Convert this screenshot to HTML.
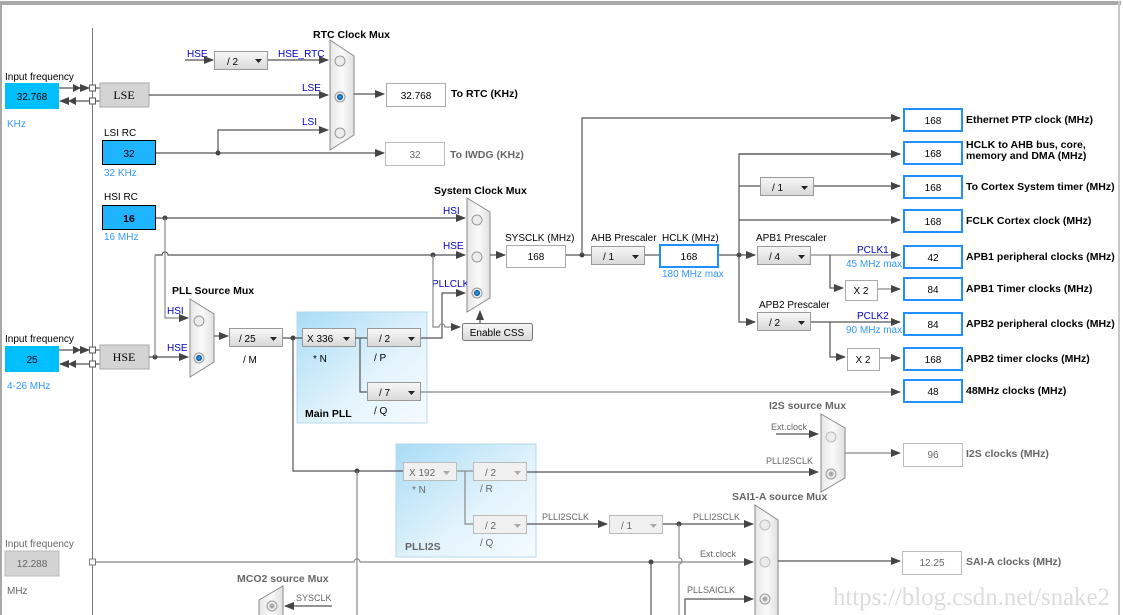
<!DOCTYPE html>
<html><head><meta charset="utf-8"><style>
html,body{margin:0;padding:0;background:#fff;}
svg{display:block;font-family:"Liberation Sans",Tahoma,sans-serif;}
.t{font-size:10px;fill:#000}
.b{font-size:10.5px;font-weight:bold;fill:#000}
.bl{font-size:10px;fill:#0000cc}
.lb{font-size:10px;fill:#3399ff}
.g{font-size:10px;fill:#666}
.gb{font-size:10.5px;font-weight:bold;fill:#666}
.l{stroke:#555;stroke-width:1.2;fill:none}
.lg{stroke:#888;stroke-width:1.2;fill:none}
</style></head><body>
<svg width="1123" height="615" viewBox="0 0 1123 615" xmlns="http://www.w3.org/2000/svg">
<defs>
<marker id="a" markerWidth="10" markerHeight="8" refX="9" refY="4" orient="auto" markerUnits="userSpaceOnUse"><path d="M0,0 L10,4 L0,8 z" fill="#444"/></marker>
<linearGradient id="dd" x1="0" y1="0" x2="0" y2="1"><stop offset="0" stop-color="#f8f8f8"/><stop offset="1" stop-color="#d8d8d8"/></linearGradient>
<linearGradient id="mx" x1="0" y1="0" x2="1" y2="0"><stop offset="0" stop-color="#e6e6e6"/><stop offset="0.5" stop-color="#fafafa"/><stop offset="1" stop-color="#e0e0e0"/></linearGradient>
<linearGradient id="pl" x1="0" y1="0" x2="1" y2="1"><stop offset="0" stop-color="#a8dcf6"/><stop offset="0.6" stop-color="#e4f4fc"/><stop offset="1" stop-color="#f4fbff"/></linearGradient>
<radialGradient id="sel"><stop offset="0" stop-color="#3fa9ff"/><stop offset="1" stop-color="#004c88"/></radialGradient>
</defs>
<rect x="0" y="0" width="1123" height="615" fill="#fff"/>
<rect x="0" y="1" width="1121" height="4" fill="#a8a8a8"/>
<rect x="0" y="1" width="2" height="614" fill="#a8a8a8"/>
<rect x="1118" y="1" width="2" height="614" fill="#c8c8c8"/>
<line x1="92.5" y1="28" x2="92.5" y2="615" stroke="#777" stroke-width="1"/>

<rect x="297" y="312" width="130" height="111" fill="url(#pl)" stroke="#b8d8ec"/>
<rect x="396" y="444" width="140" height="113" fill="url(#pl)" stroke="#b8d8ec"/>

<text x="5" y="80" class="t">Input frequency</text>
<rect x="5" y="83" width="54" height="26" fill="#00bfff"/>
<text x="32" y="100" class="t" text-anchor="middle">32.768</text>
<text x="7" y="127" class="lb">KHz</text>
<line x1="59" y1="88" x2="89" y2="88" class="l" marker-end="url(#a)"/><path d="M73,84 L81,88 L73,92z" fill="#444"/>
<line x1="89" y1="101" x2="60" y2="101" class="l" marker-end="url(#a)"/><path d="M76,97 L68,101 L76,105z" fill="#444"/>
<rect x="89.5" y="85" width="6" height="6" fill="#fff" stroke="#555"/>
<rect x="89.5" y="98" width="6" height="6" fill="#fff" stroke="#555"/>
<line x1="95" y1="88" x2="100" y2="88" class="l"/><line x1="95" y1="101" x2="100" y2="101" class="l"/>
<rect x="100" y="83" width="49" height="24" fill="#d4d4d4" stroke="#aaa"/>
<text x="124" y="99" text-anchor="middle" style="font-family:'Liberation Serif',serif;font-size:12px">LSE</text>

<text x="5" y="342" class="t">Input frequency</text>
<rect x="5" y="346" width="54" height="26" fill="#00bfff"/>
<text x="32" y="363" class="t" text-anchor="middle">25</text>
<text x="7" y="389" class="lb">4-26 MHz</text>
<line x1="59" y1="350" x2="89" y2="350" class="l" marker-end="url(#a)"/><path d="M73,346 L81,350 L73,354z" fill="#444"/>
<line x1="89" y1="364" x2="60" y2="364" class="l" marker-end="url(#a)"/><path d="M76,360 L68,364 L76,368z" fill="#444"/>
<rect x="89.5" y="347" width="6" height="6" fill="#fff" stroke="#555"/>
<rect x="89.5" y="361" width="6" height="6" fill="#fff" stroke="#555"/>
<line x1="95" y1="350" x2="100" y2="350" class="l"/><line x1="95" y1="364" x2="100" y2="364" class="l"/>
<rect x="100" y="345" width="49" height="24" fill="#d4d4d4" stroke="#aaa"/>
<text x="124" y="361" text-anchor="middle" style="font-family:'Liberation Serif',serif;font-size:12px">HSE</text>

<text x="5" y="547" class="g">Input frequency</text>
<rect x="5" y="551" width="54" height="25" fill="#d3d3d3" stroke="#bbb"/>
<text x="32" y="567" class="g" text-anchor="middle">12.288</text>
<text x="7" y="594" class="g">MHz</text>
<rect x="89.5" y="559" width="6" height="6" fill="#fff" stroke="#777"/>

<text x="104" y="136" class="t">LSI RC</text>
<rect x="102.5" y="140.5" width="53" height="24" fill="#1eb4ff" stroke="#000"/>
<text x="129" y="157" class="t" text-anchor="middle">32</text>
<text x="104" y="176" class="lb">32 KHz</text>
<text x="104" y="200" class="t">HSI RC</text>
<rect x="102.5" y="205.5" width="53" height="24" fill="#1eb4ff" stroke="#000"/>
<text x="129" y="222" class="b" text-anchor="middle">16</text>
<text x="104" y="240" class="lb">16 MHz</text>

<text x="313" y="38" class="b">RTC Clock Mux</text>
<text x="187" y="57" class="bl">HSE</text>
<line x1="185" y1="60" x2="213" y2="60" class="l" marker-end="url(#a)"/>
<rect x="214.5" y="51.5" width="53" height="18" fill="url(#dd)" stroke="#999"/>
<text x="227" y="65" class="t">/ 2</text><path d="M255,59 L262,59 L258.5,63z" fill="#222"/>
<line x1="268" y1="60" x2="328" y2="60" class="l" marker-end="url(#a)"/>
<text x="278" y="57" class="bl">HSE_RTC</text>
<line x1="149" y1="95" x2="328" y2="95" class="l" marker-end="url(#a)"/>
<text x="302" y="91" class="bl">LSE</text>
<text x="302" y="125" class="bl">LSI</text>
<polyline points="218,153 218,130 328,130" class="l" marker-end="url(#a)"/>
<polygon points="330,40 354,56 354,135 330,150" fill="url(#mx)" stroke="#888"/>
<circle cx="340" cy="61" r="5" fill="#ececec" stroke="#999"/>
<circle cx="340" cy="97" r="5" fill="#ececec" stroke="#999"/><circle cx="340" cy="97" r="3" fill="url(#sel)"/>
<circle cx="340" cy="133" r="5" fill="#ececec" stroke="#999"/>
<line x1="354" y1="94" x2="384" y2="94" class="l" marker-end="url(#a)"/>
<rect x="386.5" y="83.5" width="59" height="23" fill="#fff" stroke="#aaa"/>
<text x="416" y="99" class="t" text-anchor="middle">32.768</text>
<text x="451" y="97" class="b">To RTC (KHz)</text>
<line x1="156" y1="153" x2="384" y2="153" class="l" marker-end="url(#a)"/>
<circle cx="218" cy="153" r="2.5" fill="#444"/>
<rect x="385.5" y="142.5" width="59" height="23" fill="#fff" stroke="#bbb"/>
<text x="415" y="158" class="g" text-anchor="middle">32</text>
<text x="450" y="158" class="gb">To IWDG (KHz)</text>

<text x="434" y="194" class="b">System Clock Mux</text>
<line x1="156" y1="218" x2="465" y2="218" class="l" marker-end="url(#a)"/>
<circle cx="165" cy="218" r="2.5" fill="#444"/>
<text x="443" y="214" class="bl">HSI</text>
<path d="M155,255 L162,255 A3,3 0 0 1 168,255 L465,255" class="l" marker-end="url(#a)"/>
<circle cx="433" cy="255" r="2.5" fill="#444"/>
<text x="443" y="249" class="bl">HSE</text>
<text x="432" y="287" class="bl">PLLCLK</text>
<polyline points="420,338 442,338 442,293 465,293" class="l" marker-end="url(#a)"/>
<path d="M433,255 L433,327 L439,327 A3,3 0 0 1 445,327 L460,327" class="lg" marker-end="url(#a)"/>
<polygon points="467,198 490,212 490,298 467,312" fill="url(#mx)" stroke="#888"/>
<circle cx="477" cy="220" r="5" fill="#ececec" stroke="#999"/>
<circle cx="477" cy="257" r="5" fill="#ececec" stroke="#999"/>
<circle cx="477" cy="293" r="5" fill="#ececec" stroke="#999"/><circle cx="477" cy="293" r="3" fill="url(#sel)"/>
<rect x="462.5" y="323.5" width="70" height="17" rx="2" fill="url(#dd)" stroke="#777"/>
<text x="497" y="336" class="t" text-anchor="middle">Enable CSS</text>
<line x1="480" y1="323" x2="480" y2="311" class="l" marker-end="url(#a)"/>
<line x1="490" y1="255" x2="505" y2="255" class="l" marker-end="url(#a)"/>
<text x="505" y="241" class="t">SYSCLK (MHz)</text>
<rect x="506.5" y="245.5" width="59" height="22" fill="#fff" stroke="#aaa"/>
<text x="536" y="260" class="t" text-anchor="middle">168</text>

<line x1="149" y1="357" x2="188" y2="357" class="l" marker-end="url(#a)"/>
<circle cx="155" cy="357" r="2.5" fill="#444"/>
<line x1="155" y1="255" x2="155" y2="357" class="lg"/>
<polyline points="165,218 165,318 188,318" class="lg" marker-end="url(#a)"/>
<text x="172" y="294" class="b">PLL Source Mux</text>
<text x="167" y="314" class="bl">HSI</text>
<text x="167" y="351" class="bl">HSE</text>
<polygon points="190,299 214,314 214,362 190,377" fill="url(#mx)" stroke="#888"/>
<circle cx="199" cy="321" r="5" fill="#ececec" stroke="#999"/>
<circle cx="199" cy="358" r="5" fill="#ececec" stroke="#999"/><circle cx="199" cy="358" r="3" fill="url(#sel)"/>
<line x1="214" y1="336" x2="228" y2="336" class="l" marker-end="url(#a)"/>
<rect x="229.5" y="328.5" width="53" height="18" fill="url(#dd)" stroke="#999"/>
<text x="239" y="342" class="t">/ 25</text><path d="M270,337 L277,337 L273.5,341z" fill="#222"/>
<text x="243" y="363" class="t">/ M</text>
<line x1="283" y1="338" x2="302" y2="338" class="l"/>
<circle cx="293" cy="338" r="2.5" fill="#444"/>
<polyline points="293,338 293,471 403,471" class="l"/>
<circle cx="357" cy="471" r="2.5" fill="#444"/>
<line x1="357" y1="471" x2="357" y2="615" class="lg"/>

<rect x="302.5" y="328.5" width="53" height="18" fill="url(#dd)" stroke="#999"/>
<text x="307" y="342" class="t">X 336</text><path d="M343,337 L350,337 L346.5,341z" fill="#222"/>
<text x="313" y="362" class="t">* N</text>
<polyline points="355,338 367,338" class="l"/>
<polyline points="360,338 360,392 367,392" class="l"/>
<rect x="367.5" y="328.5" width="53" height="18" fill="url(#dd)" stroke="#999"/>
<text x="379" y="342" class="t">/ 2</text><path d="M408,337 L415,337 L411.5,341z" fill="#222"/>
<text x="374" y="361" class="t">/ P</text>
<rect x="367.5" y="382.5" width="53" height="18" fill="url(#dd)" stroke="#999"/>
<text x="379" y="396" class="t">/ 7</text><path d="M408,391 L415,391 L411.5,395z" fill="#222"/>
<text x="374" y="414" class="t">/ Q</text>
<text x="305" y="417" class="b">Main PLL</text>
<line x1="420" y1="392" x2="900" y2="392" class="lg" marker-end="url(#a)"/>

<rect x="403.5" y="462.5" width="53" height="18" fill="#f0f0f0" stroke="#bbb"/>
<text x="409" y="476" class="g">X 192</text><path d="M443,471 L450,471 L446.5,475z" fill="#aaa"/>
<text x="412" y="493" class="g">* N</text>
<line x1="457" y1="471" x2="473" y2="471" class="lg"/>
<polyline points="465,471 465,524 473,524" class="lg"/>
<rect x="473.5" y="462.5" width="53" height="18" fill="#f0f0f0" stroke="#bbb"/>
<text x="485" y="476" class="g">/ 2</text><path d="M514,471 L521,471 L517.5,475z" fill="#aaa"/>
<text x="480" y="492" class="g">/ R</text>
<rect x="473.5" y="515.5" width="53" height="18" fill="#f0f0f0" stroke="#bbb"/>
<text x="485" y="529" class="g">/ 2</text><path d="M514,524 L521,524 L517.5,528z" fill="#aaa"/>
<text x="480" y="546" class="g">/ Q</text>
<text x="405" y="550" class="gb">PLLI2S</text>
<line x1="527" y1="472" x2="818" y2="472" class="l" marker-end="url(#a)"/>
<line x1="527" y1="524" x2="607" y2="524" class="l" marker-end="url(#a)"/>
<text x="542" y="520" class="g" style="font-size:9px">PLLI2SCLK</text>
<rect x="609.5" y="515.5" width="53" height="18" fill="#f0f0f0" stroke="#bbb"/>
<text x="621" y="529" class="g">/ 1</text><path d="M650,524 L657,524 L653.5,528z" fill="#aaa"/>
<line x1="663" y1="524" x2="753" y2="524" class="l" marker-end="url(#a)"/>
<circle cx="679" cy="524" r="2.5" fill="#444"/>
<text x="693" y="520" class="g" style="font-size:9px">PLLI2SCLK</text>
<path d="M679,524 L679,558 A3,3 0 0 1 679,564 L679,615" class="lg"/>

<path d="M96,562 L354,562 A3,3 0 0 1 360,562 L753,562" class="lg" marker-end="url(#a)"/>
<circle cx="651" cy="562" r="2.5" fill="#444"/>
<line x1="651" y1="562" x2="651" y2="615" class="l"/>
<text x="700" y="557" class="g" style="font-size:9px">Ext.clock</text>
<polyline points="685,615 685,599 753,599" class="l" marker-end="url(#a)"/>
<text x="687" y="593" class="g" style="font-size:9px">PLLSAICLK</text>

<text x="732" y="500" class="gb">SAI1-A source Mux</text>
<polygon points="755,505 778,520 778,630 755,645" fill="url(#mx)" stroke="#888"/>
<circle cx="765" cy="525" r="5" fill="#ececec" stroke="#bbb"/>
<circle cx="765" cy="562" r="5" fill="#ececec" stroke="#bbb"/>
<circle cx="765" cy="599" r="5" fill="#ececec" stroke="#999"/><circle cx="765" cy="599" r="2.5" fill="#aaa"/>
<line x1="778" y1="561" x2="900" y2="561" class="l" marker-end="url(#a)"/>
<rect x="902.5" y="551.5" width="59" height="23" fill="#fff" stroke="#bbb"/>
<text x="932" y="566" class="g" text-anchor="middle">12.25</text>
<text x="966" y="565" class="gb">SAI-A clocks (MHz)</text>

<text x="769" y="409" class="gb">I2S source Mux</text>
<text x="771" y="430" class="g" style="font-size:9px">Ext.clock</text>
<line x1="776" y1="434" x2="818" y2="434" class="l" marker-end="url(#a)"/>
<text x="766" y="464" class="g" style="font-size:9px">PLLI2SCLK</text>
<polygon points="821,414 845,428 845,478 821,492" fill="url(#mx)" stroke="#888"/>
<circle cx="831" cy="437" r="5" fill="#ececec" stroke="#bbb"/>
<circle cx="831" cy="474" r="5" fill="#ececec" stroke="#999"/><circle cx="831" cy="474" r="2.5" fill="#aaa"/>
<line x1="845" y1="453" x2="900" y2="453" class="lg" marker-end="url(#a)"/>
<rect x="903.5" y="443.5" width="59" height="23" fill="#fff" stroke="#bbb"/>
<text x="933" y="458" class="g" text-anchor="middle">96</text>
<text x="966" y="457" class="gb">I2S clocks (MHz)</text>

<text x="237" y="582" class="gb">MCO2 source Mux</text>
<polygon points="259,600 283,586 283,620 259,620" fill="url(#mx)" stroke="#888"/>
<circle cx="272" cy="606" r="5" fill="#ececec" stroke="#999"/><circle cx="272" cy="606" r="2.5" fill="#aaa"/>
<line x1="332" y1="606" x2="285" y2="606" class="l" marker-end="url(#a)"/>
<text x="296" y="601" class="g" style="font-size:9px">SYSCLK</text>

<line x1="566" y1="255" x2="591" y2="255" class="l"/>
<circle cx="582" cy="255" r="2.5" fill="#444"/>
<polyline points="582,255 582,118 900,118" class="l" marker-end="url(#a)"/>
<text x="591" y="241" class="t">AHB Prescaler</text>
<rect x="591.5" y="246.5" width="53" height="18" fill="url(#dd)" stroke="#999"/>
<text x="603" y="260" class="t">/ 1</text><path d="M632,255 L639,255 L635.5,259z" fill="#222"/>
<line x1="645" y1="255" x2="660" y2="255" class="l"/>
<text x="662" y="241" class="t">HCLK (MHz)</text>
<rect x="660" y="245" width="58" height="22" fill="#fff" stroke="#1e90ff" stroke-width="2"/>
<text x="689" y="260" class="t" text-anchor="middle">168</text>
<text x="662" y="277" class="lb">180 MHz max</text>
<line x1="719" y1="255" x2="755" y2="255" class="l" marker-end="url(#a)"/>
<circle cx="739" cy="255" r="2.5" fill="#444"/>
<polyline points="900,154 739,154 739,322 755,322" class="l" marker-end="url(#a)"/>
<line x1="739" y1="154" x2="900" y2="154" class="l" marker-end="url(#a)"/>
<line x1="739" y1="220" x2="900" y2="220" class="l" marker-end="url(#a)"/>
<line x1="739" y1="186" x2="760" y2="186" class="l"/>
<rect x="760.5" y="177.5" width="53" height="18" fill="url(#dd)" stroke="#999"/>
<text x="772" y="191" class="t">/ 1</text><path d="M801,186 L808,186 L804.5,190z" fill="#222"/>
<line x1="814" y1="186" x2="900" y2="186" class="l" marker-end="url(#a)"/>
<text x="756" y="241" class="t">APB1 Prescaler</text>
<rect x="757.5" y="246.5" width="53" height="18" fill="url(#dd)" stroke="#999"/>
<text x="769" y="260" class="t">/ 4</text><path d="M798,255 L805,255 L801.5,259z" fill="#222"/>
<line x1="811" y1="255" x2="900" y2="255" class="lg" marker-end="url(#a)"/>
<text x="857" y="253" class="bl">PCLK1</text>
<text x="846" y="267" class="lb">45 MHz max</text>
<polyline points="830,255 830,288 843,288" class="l" marker-end="url(#a)"/>
<rect x="845.5" y="280.5" width="32" height="20" fill="#fff" stroke="#aaa"/>
<text x="861" y="294" class="t" text-anchor="middle">X 2</text>
<line x1="878" y1="289" x2="900" y2="289" class="lg" marker-end="url(#a)"/>
<text x="759" y="308" class="t">APB2 Prescaler</text>
<rect x="757.5" y="312.5" width="53" height="18" fill="url(#dd)" stroke="#999"/>
<text x="769" y="326" class="t">/ 2</text><path d="M798,321 L805,321 L801.5,325z" fill="#222"/>
<line x1="811" y1="322" x2="900" y2="322" class="l" marker-end="url(#a)"/>
<text x="857" y="319" class="bl">PCLK2</text>
<text x="846" y="333" class="lb">90 MHz max</text>
<polyline points="830,322 830,357 845,357" class="l" marker-end="url(#a)"/>
<rect x="847.5" y="348.5" width="32" height="22" fill="#fff" stroke="#aaa"/>
<text x="863" y="363" class="t" text-anchor="middle">X 2</text>
<line x1="880" y1="358" x2="900" y2="358" class="lg" marker-end="url(#a)"/>

<g fill="#fff" stroke="#1e90ff" stroke-width="2">
<rect x="904" y="109" width="58" height="22"/>
<rect x="904" y="142" width="58" height="22"/>
<rect x="904" y="176" width="58" height="22"/>
<rect x="904" y="210" width="58" height="22"/>
<rect x="904" y="246" width="58" height="22"/>
<rect x="904" y="278" width="58" height="22"/>
<rect x="904" y="313" width="58" height="22"/>
<rect x="904" y="348" width="58" height="22"/>
<rect x="904" y="380" width="58" height="22"/>
</g>
<g class="t" text-anchor="middle" font-size="10">
<text x="933" y="124">168</text><text x="933" y="157">168</text><text x="933" y="191">168</text>
<text x="933" y="225">168</text><text x="933" y="261">42</text><text x="933" y="293">84</text>
<text x="933" y="328">84</text><text x="933" y="363">168</text><text x="933" y="395">48</text>
</g>
<text x="966" y="123" class="b">Ethernet PTP clock (MHz)</text>
<text x="966" y="148" class="b">HCLK to AHB bus, core,</text>
<text x="966" y="159" class="b">memory and DMA (MHz)</text>
<text x="966" y="190" class="b">To Cortex System timer (MHz)</text>
<text x="966" y="224" class="b">FCLK Cortex clock (MHz)</text>
<text x="966" y="260" class="b">APB1 peripheral clocks (MHz)</text>
<text x="966" y="292" class="b">APB1 Timer clocks (MHz)</text>
<text x="966" y="327" class="b">APB2 peripheral clocks (MHz)</text>
<text x="966" y="362" class="b">APB2 timer clocks (MHz)</text>
<text x="966" y="394" class="b">48MHz clocks (MHz)</text>

<text x="833" y="605" textLength="277" style="font-family:'Liberation Serif',serif;font-size:25px;fill:#dcdcdc">https://blog.csdn.net/snake2</text>
</svg>
</body></html>
